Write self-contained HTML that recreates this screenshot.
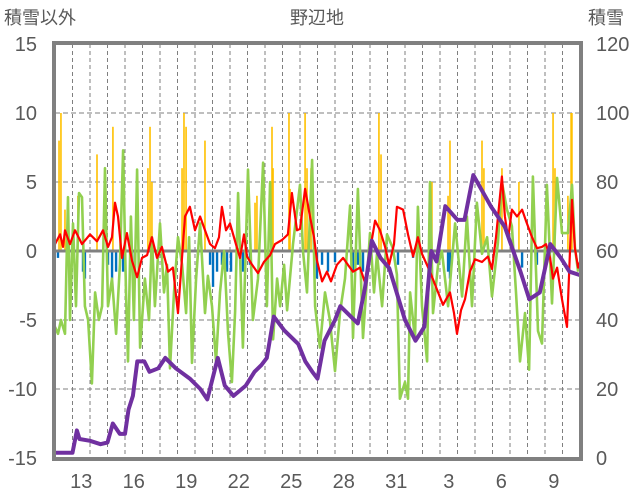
<!DOCTYPE html>
<html><head><meta charset="utf-8">
<style>
html,body{margin:0;padding:0;background:#fff;}
svg{display:block;font-family:"Liberation Sans","Noto Sans CJK JP",sans-serif;}
</style></head>
<body>
<svg id="chart" width="636" height="501" viewBox="0 0 636 501">
<text x="317" y="24" text-anchor="middle" font-size="18" fill="#595959">野辺地</text>
<text x="4" y="24" font-size="18" fill="#595959">積雪以外</text>
<text x="588" y="24" font-size="18" fill="#595959">積雪</text>
<g id="grid"></g>
<g id="bars"></g>
<g id="lines"></g>
<g id="axes"></g>
</svg>
<script>
const leftTicks = [15,10,5,0,-5,-10,-15];
const rightTicks = [120,100,80,60,40,20,0];
const dayLabels = ["13","16","19","22","25","28","31","3","6","9"];
const dayLabelPos = [1,4,7,10,13,16,19,22,25,28];
const numDays = 30;

const snowT = [0,1.0,1.25,1.4,2,2.6,3,3.3,3.7,4,4.2,4.45,4.7,5.1,5.4,5.9,6.3,6.9,7.7,8.3,8.7,9.3,9.7,10.2,10.9,11.4,11.8,12.1,12.5,13.1,13.9,14.3,14.7,15.0,15.4,16,16.3,16.9,17.3,17.7,18.1,18.6,19.1,20,20.6,21.1,21.5,21.8,22.3,23,23.4,23.9,24.9,25.7,26.6,27.1,27.7,28.3,28.9,29.4,30];
const snowV = [1.5,1.5,8,5.5,5,4,4.5,10,7,7,14,18,28,28,25,26,29,26,23,20,17,29,21,18,21,25,27,29,41,37,33,28,25,23,34,40,44,41,39,49,63,58,55,40,34,38,60,57,73,69,69,82,73,67,54,46,48,62,58,54,53];

const redT = [0,.29,.46,.57,.86,1.14,1.54,2,2.4,2.74,3.03,3.26,3.43,3.6,3.83,4.11,4.4,4.69,4.97,5.26,5.54,5.83,6.11,6.46,6.74,7.03,7.2,7.43,7.71,8,8.29,8.57,8.86,9.14,9.37,9.54,9.77,10,10.34,10.57,10.8,10.97,11.26,11.6,11.94,12.29,12.57,12.97,13.31,13.54,13.83,14,14.29,14.57,14.8,14.97,15.26,15.54,15.77,16.11,16.46,16.74,17.03,17.43,17.77,18.06,18.29,18.57,18.86,19.09,19.37,19.54,19.89,20.17,20.46,20.74,20.97,21.43,21.89,22.17,22.57,22.8,22.97,23.2,23.43,23.71,24,24.4,24.74,24.97,25.2,25.54,25.71,25.89,26.11,26.4,26.69,26.91,27.26,27.54,27.83,28.06,28.29,28.46,28.69,28.97,29.26,29.54,29.71,29.89,30];
const redV = [0.5,1.2,0.3,1.5,0.5,1.5,0.5,1.2,0.7,1.5,0.3,1.0,3.5,2.5,-0.5,1.3,-0.7,-1.9,-0.5,-0.3,1,-0.5,0.3,-1.5,-1.2,-4.5,-1.5,2.5,3.2,1.5,2.5,1.5,0.5,0.2,1.0,3.2,1.5,2,0.5,-0.5,1.2,-0.4,-1,-1.6,-0.8,-0.3,0.5,0.8,1.2,4.2,1.5,1.6,4.5,2.5,1.0,-0.7,-2.2,-1.5,-2.2,-1,-0.5,-1,-1.5,-1.2,-2.5,0.5,2.2,1.5,0.3,-1,0.5,3.2,3,1.2,-0.4,1,-0.2,-1.5,-3,-3.9,-3,-4.5,-6,-4.3,-3.5,-1.5,-0.6,-0.8,-0.4,-1.3,1.0,5.4,2.5,0.9,3,2.5,3,2.2,1,0.2,0.3,0.5,-0.5,-2,-1.2,-3.5,-5.5,3.7,0.2,-1.2,-0.8];

const greenT = [0,.17,.34,.57,.74,.86,1.03,1.2,1.37,1.54,1.71,1.89,2.11,2.29,2.51,2.69,2.86,3.03,3.26,3.49,3.71,3.89,4.06,4.17,4.34,4.51,4.69,4.86,5.14,5.37,5.54,5.71,6,6.23,6.4,6.57,6.8,7.03,7.26,7.49,7.66,7.83,8.06,8.29,8.57,8.74,8.97,9.2,9.43,9.66,9.89,10.11,10.29,10.46,10.74,11.03,11.31,11.6,11.89,12.11,12.29,12.46,12.69,12.86,13.09,13.26,13.6,14,14.17,14.4,14.69,14.86,15.14,15.43,15.71,16,16.29,16.57,16.86,17.03,17.31,17.6,18,18.23,18.4,18.69,18.97,19.31,19.54,19.71,20,20.17,20.29,20.57,20.74,20.97,21.26,21.43,21.6,21.89,22.11,22.46,22.86,23.26,23.54,23.83,24.11,24.4,24.69,24.97,25.31,25.54,25.83,26.11,26.34,26.57,26.86,27.09,27.31,27.6,27.83,28.11,28.4,28.69,28.97,29.31,29.54,29.71,29.89];
const greenV = [-5.5,-6,-5,-6,3.9,-5,2,-4,4.2,3.9,-4,-5,-9.6,-3,-5,-4,6,-4,-2,-6,-1,7.3,-3,-8,2.5,-5,5.9,-7,-2,-5,1,-4,2,-3,-1,-8.5,-3,1,-1,-4.5,1,-8.1,-2,2,-4.5,-1.8,-4,-8,-3,0,-6,-9.5,-4.4,4.2,-7,5.9,-5,-2,6.4,-4,5,-6.4,-2,-4,-1,-4.3,0.5,4.8,0,-3,6.6,-4,-7,-3,-5,-8.7,-4.4,-2,3.3,-6.3,4.5,-6.3,1.3,-3,-0.2,-4,1.2,0.2,-1.7,-10.7,-9.5,-10.7,-3,-6.4,3.2,-4,-8,5,-4.5,-1,0,-4,2,-3.3,2.5,-4,3.5,-0.2,1,-3.3,0.6,5,3,1.8,-3,-8,-4.5,-8.6,5.4,-5.8,-6.7,4.8,-3.8,5.3,1.3,1.3,4.8,0.3,-1.5];

const orangeT = [.23,.34,.57,1.31,2.4,3.31,5.31,5.43,5.54,7.26,7.37,7.49,8.57,11.43,11.54,12.4,12.46,13.37,13.43,14.29,14.4,14.63,18.51,18.63,21.54,22.46,22.57,24.4,24.51,25.54,26.51,28.46,28.57,29.31,29.49,29.54];
const orangeV = [8,10,3,4,7,9,6,9,5,6,10,9,8,3.5,4,9,6,10,4.5,10,6,6,10,7,5,4,8,8,6,6,5,10,6,4,10,10];
const blueT = [.17,1.6,1.71,3.03,3.26,3.49,3.89,4.57,6.17,8.17,8.86,9.03,9.26,9.54,9.83,10.06,10.74,11.14,14.97,15.26,15.6,16,17.03,17.31,17.6,19.6,20.46,22.46,22.57,26.69,27.54];
const blueV = [-0.5,-1.5,-2,-1,-2,-1.5,-1.5,-1.2,-0.5,-0.3,-1,-2.6,-1.5,-1,-1.5,-1.5,-1.5,-1,-2,-1,-1.5,-0.8,-1.5,-1,-1.5,-1,-0.5,-1.5,-2,-1.2,-1];

const X0 = 55, X1 = 580, YT = 44, YB = 458;
function xs(d){ return X0 + d*(X1-X0)/numDays; }
function yl(v){ return 251 - v*(251-YT)/15; }
function yr(v){ return YB - v*(YB-YT)/120; }
const NS = "http://www.w3.org/2000/svg";
function mk(tag, attrs, parent){
  const e = document.createElementNS(NS, tag);
  for (const k in attrs) e.setAttribute(k, attrs[k]);
  parent.appendChild(e); return e;
}
const grid = document.getElementById('grid');
const bars = document.getElementById('bars');
const lines = document.getElementById('lines');
const axes = document.getElementById('axes');

for (let d = 1; d < numDays; d++) {
  const l = mk('line', {x1: xs(d), x2: xs(d), y1: YT, y2: YB, stroke: '#7f7f7f', 'stroke-width': 1, 'stroke-dasharray': '4 3'}, grid);
  
  
}
leftTicks.forEach(v => {
  if (v !== 15 && v !== -15 && v !== 0) {
    const l = mk('line', {x1: X0, x2: X1, y1: yl(v), y2: yl(v), stroke: '#7f7f7f', 'stroke-width': 1, 'stroke-dasharray': '5 3'}, grid);
    
    
  }
  const t = mk('text', {x: 37, y: yl(v) + 7, 'text-anchor': 'end', 'font-size': 20, fill: '#595959'}, axes);
  t.textContent = v;
  
  
});
rightTicks.forEach(v => {
  const t = mk('text', {x: 596, y: yr(v) + 7, 'font-size': 20, fill: '#595959'}, axes);
  t.textContent = v;
  
  
});
dayLabels.forEach((s, i) => {
  const t = mk('text', {x: xs(dayLabelPos[i] + 0.5), y: 488, 'text-anchor': 'middle', 'font-size': 20, fill: '#595959'}, axes);
  t.textContent = s;
  
  
});
orangeT.forEach((d, i) => {
  const y = yl(orangeV[i]);
  const r = mk('rect', {x: xs(d) - 0.8, y: y, width: 1.6, height: yl(0) - y, fill: '#ffc000'}, bars);
  
  
});
blueT.forEach((d, i) => {
  const r = mk('rect', {x: xs(d) - 1.2, y: yl(0), width: 2.4, height: yl(blueV[i]) - yl(0), fill: '#0070c0'}, bars);
  
  
});
const zero = mk('line', {x1: X0, x2: X1, y1: yl(0), y2: yl(0), stroke: '#808080', 'stroke-width': 3}, bars);



function pts(T, V, f){ return T.map((d, i) => xs(d).toFixed(1) + ',' + f(V[i]).toFixed(1)).join(' '); }
const g = mk('polyline', {points: pts(greenT, greenV, yl), fill: 'none', stroke: '#92d050', 'stroke-width': 2.6, 'stroke-linejoin': 'round'}, lines);


const r = mk('polyline', {points: pts(redT, redV, yl), fill: 'none', stroke: '#ff0000', 'stroke-width': 2.2, 'stroke-linejoin': 'round'}, lines);


const p = mk('polyline', {points: pts(snowT, snowV, yr), fill: 'none', stroke: '#7030a0', 'stroke-width': 4, 'stroke-linejoin': 'round'}, lines);



const frame = mk('rect', {x: X0 - 1, y: YT - 1, width: X1 - X0 + 2, height: YB - YT + 2, fill: 'none', stroke: '#808080', 'stroke-width': 4}, axes);


</script>
</body></html>
